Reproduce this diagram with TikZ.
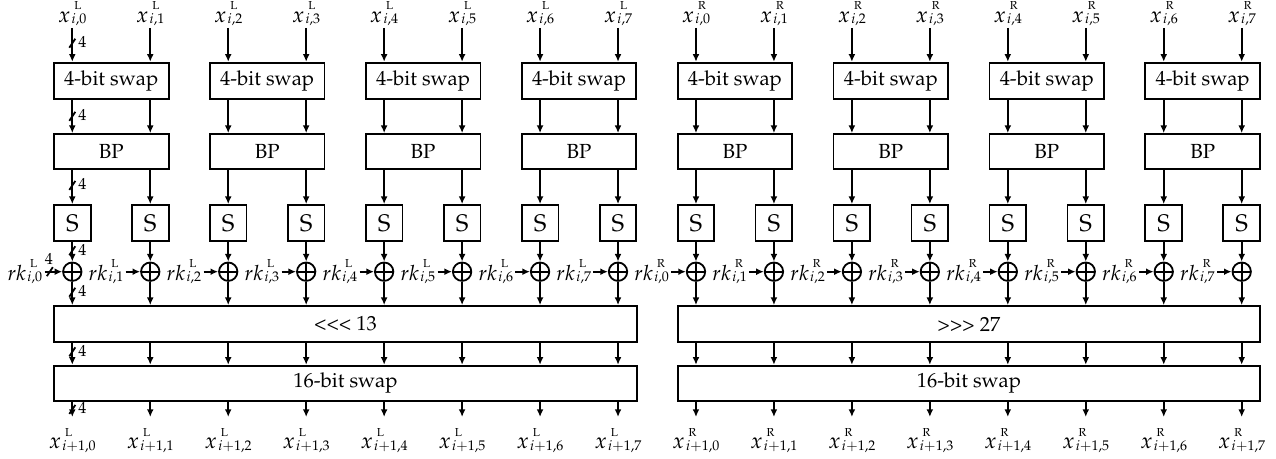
\documentclass[tikz,border=0pt]{standalone}
\usepackage[T1]{fontenc}
\usepackage{mathpazo}
\usetikzlibrary{arrows.meta,calc}
\tikzset{
  lw/.style={line width=0.9pt},
  box/.style={draw, lw, inner sep=0pt, font=\fontsize{10.2}{12}\selectfont},
  sbox/.style={box, font=\fontsize{12}{14}\selectfont},
  arr/.style={lw, -{Latex[length=3.8pt,width=3.4pt]}},
  xo/.style={draw, circle, lw, minimum size=9.2pt, inner sep=0pt,
    path picture={\draw[lw] (path picture bounding box.north) -- (path picture bounding box.south)
                             (path picture bounding box.west) -- (path picture bounding box.east);}},
  toplab/.style={anchor=south, inner xsep=0pt, inner ysep=1pt, font=\fontsize{11}{13}\selectfont},
  botlab/.style={anchor=north, inner xsep=0pt, inner ysep=5.5pt, font=\fontsize{11}{13}\selectfont},
  rklab/.style={anchor=east, inner sep=1pt, font=\fontsize{10.5}{12}\selectfont},
  four/.style={inner sep=0pt, font=\fontsize{8}{9}\selectfont},
}
% main symbol, superscript, subscript
\newcommand\vlab[3]{$#1$\kern0.6pt\rlap{\raisebox{6.2pt}{\fontsize{5.8}{6}\selectfont\kern1.4pt #2}}\raisebox{-0.7pt}{\fontsize{7}{8}\selectfont$#3$}}
\newcommand\busmark[2]{%
  \draw[lw] ($(#1)+(-3,4.5)$) -- ($(#1)+(3,-4.5)$);
  \node[four] (#2) at ($(#1)+(10,-1)$) {4};}
\begin{document}
\begin{tikzpicture}[x=0.5pt,y=-0.5pt]
\useasboundingbox (0,0) rectangle (1276,459);
% pair boxes
\foreach \j in {0,...,7} {
  \pgfmathsetmacro\cx{72.3+77.96*(2*\j+0.5)}
  \node[box, minimum width=57.35pt, minimum height=18pt] (s4\j) at (\cx,80.7) {4-bit swap};
  \node[box, minimum width=57.35pt, minimum height=17.65pt] (bp\j) at (\cx,151.65) {BP};
}
% big boxes
\node[box, minimum width=291.5pt, minimum height=18.15pt] (bigL) at (345.5,324.15) {\textless\kern0pt\textless\kern0pt\textless~13};
\node[box, minimum width=291pt, minimum height=18.15pt] (bigR) at (969,324.15) {\textgreater\kern0pt\textgreater\kern0pt\textgreater~27};
\node[box, minimum width=291.5pt, minimum height=17.65pt] (swL) at (345.5,383.35) {16-bit swap};
\node[box, minimum width=291pt, minimum height=17.65pt] (swR) at (969,383.35) {16-bit swap};
% columns
\foreach \k in {0,...,15} {
  \pgfmathsetmacro\xx{72.3+77.96*\k}
  \pgfmathtruncatemacro\ii{mod(\k,8)}
  \pgfmathtruncatemacro\j{int(\k/2)}
  \ifnum\k<8 \def\sd{L}\else\def\sd{R}\fi
  \ifnum\k=0 \def\gap{17.7}\else\def\gap{14.5}\fi
  \node[toplab] (t\k) at (\xx,28) {\vlab{x}{\sd}{i{,}\ii}};
  \node[sbox, minimum width=18.35pt, minimum height=18pt] (S\k) at (\xx,223) {S};
  \node[xo] (X\k) at (\xx,271.7) {};
  \node[rklab] (r\k) at ($(X\k.west)+(-\gap,0)$) {\vlab{rk}{\sd}{i{,}\ii}};
  \node[botlab] (o\k) at (\xx,417) {\vlab{x}{\sd}{i{+}1{,}\ii}};
  \draw[arr] (t\k) -- (t\k |- s4\j.north);
  \draw[arr] (t\k |- s4\j.south) -- (t\k |- bp\j.north);
  \draw[arr] (t\k |- bp\j.south) -- (S\k);
  \draw[arr] (S\k) -- (X\k);
  \draw[arr] (r\k) -- (X\k);
  \draw[arr] (X\k) -- (X\k |- big\sd.north);
  \draw[arr] (X\k |- big\sd.south) -- (X\k |- sw\sd.north);
  \draw[arr] (X\k |- sw\sd.south) -- (o\k);
}
% bus width marks on column 0
\coordinate (m1) at ($(t0.south)!0.45!(t0.south |- s40.north)$);
\coordinate (m2) at ($(t0.south |- s40.south)!0.5!(t0.south |- bp0.north)$);
\coordinate (m3) at ($(t0.south |- bp0.south)!0.45!(S0.north)$);
\coordinate (m4) at ($(S0.south)!0.45!(X0.north)$);
\coordinate (m5) at ($(X0.south)!0.45!(X0 |- bigL.north)$);
\coordinate (m6) at ($(X0 |- bigL.south)!0.4!(X0 |- swL.north)$);
\coordinate (m7) at ($(X0 |- swL.south)!0.5!(o0.north)$);
\busmark{m1}{f1}
\busmark{m2}{f2}
\busmark{m3}{f3}
\busmark{m4}{f4}
\busmark{m5}{f5}
\busmark{m6}{f6}
\busmark{m7}{f7}
\coordinate (m8) at ($(r0.east)!0.3!(X0.west)$);
\draw[lw] ($(m8)+(-3,4.5)$) -- ($(m8)+(3,-4.5)$);
\node[four] (f8) at ($(m8)+(-1,-13)$) {4};
\end{tikzpicture}
\end{document}
